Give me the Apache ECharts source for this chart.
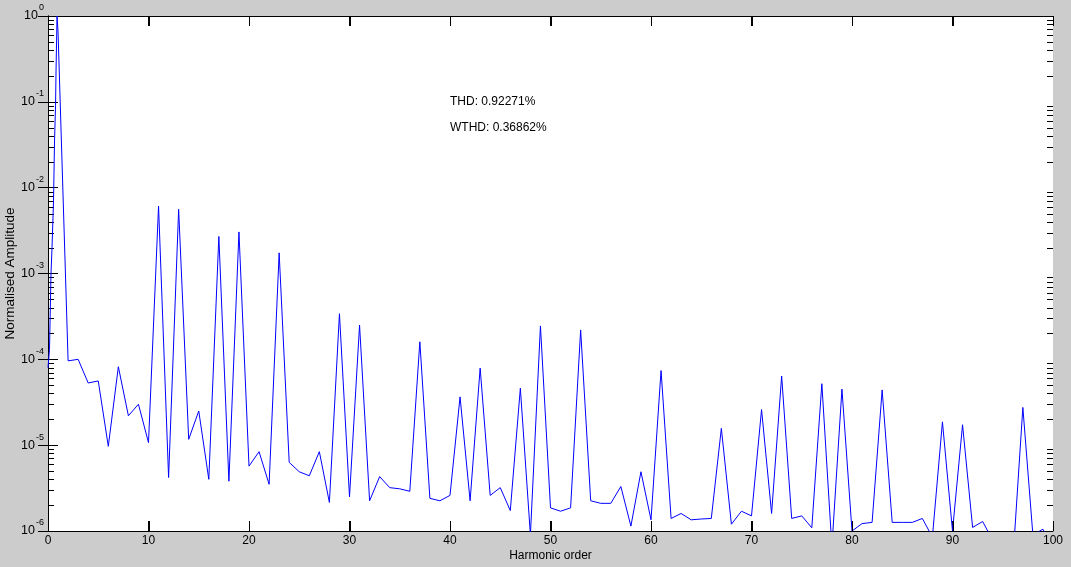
<!DOCTYPE html>
<html><head><meta charset="utf-8">
<script src="https://cdn.jsdelivr.net/npm/echarts@6/dist/echarts.min.js"></script>
<style>html,body{margin:0;padding:0;background:#cccccc}#c{width:1071px;height:567px}</style>
</head><body><div id="c"></div>
<script>
// ---- data ----
const orders = [0, 0.15, 0.3, 0.4, 0.55, 0.65, 0.75, 0.8, 0.9, 1,
  2, 3, 4, 5, 6, 7, 8, 9, 10,
  11, 12, 13, 14, 15, 16, 17, 18, 19, 20,
  21, 22, 23, 24, 25, 26, 27, 28, 29, 30,
  31, 32, 33, 34, 35, 36, 37, 38, 39, 40,
  41, 42, 43, 44, 45, 46, 47, 48, 49, 50,
  51, 52, 53, 54, 55, 56, 57, 58, 59, 60,
  61, 62, 63, 64, 65, 66, 67, 68, 69, 70,
  71, 72, 73, 74, 75, 76, 77, 78, 79, 80,
  81, 82, 83, 84, 85, 86, 87, 88, 89, 90,
  91, 92, 93, 94, 95, 96, 97, 98, 99, 100];
const amplitudes = [8e-5, 1.3e-4, 1.0e-3, 2.0e-3, 7e-3, 3.5e-2, 9e-2, 0.23, 1.0, 0.65,
  9.6e-5, 1.0e-4, 5.3e-5, 5.6e-5, 9.7e-6, 8.2e-5, 2.2e-5, 3.0e-5, 1.07e-5,
  6.1e-3, 4.2e-6, 5.6e-3, 1.17e-5, 2.5e-5, 4.0e-6, 2.7e-3, 3.8e-6, 3.05e-3, 5.7e-6,
  8.4e-6, 3.5e-6, 1.74e-3, 6.3e-6, 4.9e-6, 4.4e-6, 8.4e-6, 2.15e-6, 3.4e-4, 2.5e-6,
  2.5e-4, 2.25e-6, 4.3e-6, 3.2e-6, 3.1e-6, 2.9e-6, 1.6e-4, 2.4e-6, 2.25e-6, 2.6e-6,
  3.65e-5, 2.25e-6, 7.9e-5, 2.6e-6, 3.2e-6, 1.73e-6, 4.6e-5, 9e-7, 2.45e-4, 1.86e-6,
  1.7e-6, 1.86e-6, 2.2e-4, 2.25e-6, 2.1e-6, 2.1e-6, 3.3e-6, 1.14e-6, 4.9e-6, 1.35e-6,
  7.4e-5, 1.4e-6, 1.6e-6, 1.35e-6, 1.38e-6, 1.4e-6, 1.57e-5, 1.2e-6, 1.7e-6, 1.5e-6,
  2.6e-5, 1.6e-6, 6.4e-5, 1.4e-6, 1.5e-6, 1.09e-6, 5.2e-5, 6.5e-7, 4.5e-5, 1.0e-6,
  1.22e-6, 1.26e-6, 4.4e-5, 1.26e-6, 1.26e-6, 1.26e-6, 1.4e-6, 8.5e-7, 1.87e-5, 1.0e-6,
  1.73e-5, 1.1e-6, 1.29e-6, 7.8e-7, 5e-7, 4.4e-7, 2.75e-5, 9e-7, 1.05e-6, 6e-7];
const xTicks = [0, 10, 20, 30, 40, 50, 60, 70, 80, 90, 100];
const yDecades = [-6, -5, -4, -3, -2, -1, 0];
const minorMultipliers = [2, 3, 4, 5, 6, 7, 8, 9];
const annotations = [
  { text: 'THD: 0.92271%', at: [40, 0.1] },
  { text: 'WTHD: 0.36862%', at: [40, 0.05] }
];
const xName = 'Harmonic order';
const yName = 'Normalised Amplitude';

// ---- chart ----
const FONT = '"Liberation Sans", Arial, sans-serif';
const seriesData = orders.map((o, i) => [o, amplitudes[i]]);
const yMinorTicks = [];
yDecades.slice(0, -1).forEach(d => minorMultipliers.forEach(m => yMinorTicks.push([0, m * Math.pow(10, d)])));
const yMin = Math.pow(10, yDecades[0]), yMax = Math.pow(10, yDecades[yDecades.length - 1]);

const chart = echarts.init(document.getElementById('c'), null, { renderer: 'canvas' });
const ln = (x1, y1, x2, y2) => ({ type: 'line', shape: { x1, y1, x2, y2 }, style: { stroke: '#000', lineWidth: 1 } });
const tick = { show: true, inside: true, length: 10, lineStyle: { color: '#000', width: 1 } };
const baseY = {
  type: 'log', logBase: 10, min: yMin, max: yMax, splitNumber: yDecades.length - 1,
  axisLine: { show: true, lineStyle: { color: '#000', width: 1 } },
  axisTick: tick,
  splitLine: { show: false }, minorTick: { show: false }
};
const baseX = {
  type: 'value', min: xTicks[0], max: xTicks[xTicks.length - 1], interval: xTicks[1] - xTicks[0],
  axisLine: { show: true, onZero: false, lineStyle: { color: '#000', width: 1 } },
  axisTick: tick,
  splitLine: { show: false }
};
chart.setOption({
  animation: false,
  backgroundColor: '#cccccc',
  grid: { left: 48, right: 18, top: 16, bottom: 36, outerBoundsMode: 'none', containLabel: false,
    show: true, backgroundColor: '#ffffff', borderWidth: 0 },
  xAxis: [
    Object.assign({}, baseX, {
      position: 'bottom',
      name: xName, nameLocation: 'middle', nameGap: 19, nameMoveOverlap: false,
      nameTextStyle: { fontFamily: FONT, fontSize: 12, color: '#000' },
      axisLabel: { show: true, margin: 4, fontFamily: FONT, fontSize: 12, color: '#000', showMinLabel: true, showMaxLabel: true }
    }),
    Object.assign({}, baseX, { position: 'top', axisLabel: { show: false } })
  ],
  yAxis: [
    Object.assign({}, baseY, {
      position: 'left',
      name: yName, nameLocation: 'middle', nameGap: 31, nameRotate: 90, nameMoveOverlap: false,
      nameTextStyle: { fontFamily: FONT, fontSize: 13.5, color: '#000' },
      axisLabel: {
        show: true, margin: 4, color: '#000',
        formatter: v => '{b|10}{e|' + Math.round(Math.log10(v)) + '}',
        rich: {
          b: { fontFamily: FONT, fontSize: 12.5, color: '#000' },
          e: { fontFamily: FONT, fontSize: 9, color: '#000', verticalAlign: 'top', padding: [0, 0, 16, 1] }
        }
      }
    }),
    Object.assign({}, baseY, { position: 'right', axisLabel: { show: false } })
  ],
  series: [
    {
      type: 'custom', xAxisIndex: 0, yAxisIndex: 0, silent: true, clip: false,
      data: yMinorTicks,
      renderItem: (params, api) => {
        const p = api.coord([0, api.value(1)]);
        const cs = params.coordSys;
        const y = Math.round(p[1]) + 0.5;
        return { type: 'group', children: [
          ln(cs.x, y, cs.x + 6, y),
          ln(cs.x + cs.width, y, cs.x + cs.width - 6, y)
        ] };
      }
    },
    {
      type: 'line', xAxisIndex: 0, yAxisIndex: 0, data: seriesData,
      showSymbol: false, symbol: 'none', clip: true,
      lineStyle: { color: '#0000ff', width: 1 }
    }
  ]
});
const toPx = v => chart.convertToPixel({ xAxisIndex: 0, yAxisIndex: 0 }, v);
const topY = Math.round(toPx([0, yMax])[1]);
const botY = Math.round(toPx([0, yMin])[1]);
const xTickGraphics = [];
xTicks.slice(1, -1).forEach(v => {
  const x = Math.round(toPx([v, yMin])[0]) + 0.5;
  xTickGraphics.push({ type: 'line', z: 100, silent: true, shape: { x1: x, y1: topY, x2: x, y2: topY + 10 }, style: { stroke: '#000', lineWidth: 1 } });
  xTickGraphics.push({ type: 'line', z: 100, silent: true, shape: { x1: x, y1: botY, x2: x, y2: botY - 10 }, style: { stroke: '#000', lineWidth: 1 } });
});
chart.setOption({
  graphic: annotations.map(a => {
    const p = toPx(a.at);
    return { type: 'text', x: p[0], y: p[1],
      style: { text: a.text, fill: '#000', font: '12px ' + FONT, verticalAlign: 'middle', align: 'left' } };
  }).concat(xTickGraphics)
});
</script></body></html>
